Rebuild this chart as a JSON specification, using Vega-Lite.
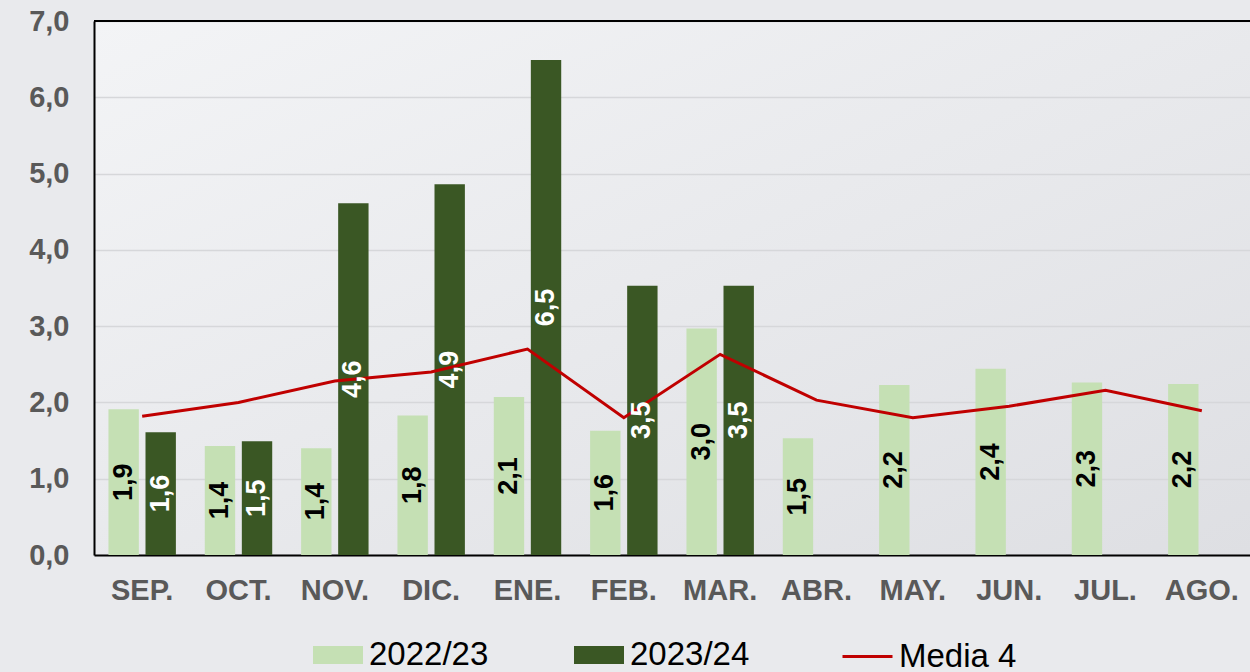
{
  "$schema": "https://vega.github.io/schema/vega-lite/v6.json",
  "width": 1156,
  "height": 534,
  "autosize": {"type": "none"},
  "padding": {"left": 94, "top": 21, "right": 0, "bottom": 117},
  "background": "#e9eaed",
  "config": {
    "font": "Liberation Sans",
    "locale": {"number": {"decimal": ",", "thousands": ".", "grouping": [3], "currency": ["", " €"]}},
    "view": {
      "stroke": null,
      "fill": {"gradient": "linear", "x1": 0, "y1": 0, "x2": 1, "y2": 1,
        "stops": [{"offset": 0, "color": "#f3f4f6"}, {"offset": 1, "color": "#dedfe3"}]}
    }
  },
  "datasets": {
    "bars": [
      {"mes": "SEP.", "serie": "2022/23", "valor": 1.91},
      {"mes": "SEP.", "serie": "2023/24", "valor": 1.61},
      {"mes": "OCT.", "serie": "2022/23", "valor": 1.43},
      {"mes": "OCT.", "serie": "2023/24", "valor": 1.49},
      {"mes": "NOV.", "serie": "2022/23", "valor": 1.40},
      {"mes": "NOV.", "serie": "2023/24", "valor": 4.61},
      {"mes": "DIC.", "serie": "2022/23", "valor": 1.83},
      {"mes": "DIC.", "serie": "2023/24", "valor": 4.86},
      {"mes": "ENE.", "serie": "2022/23", "valor": 2.07},
      {"mes": "ENE.", "serie": "2023/24", "valor": 6.49},
      {"mes": "FEB.", "serie": "2022/23", "valor": 1.63},
      {"mes": "FEB.", "serie": "2023/24", "valor": 3.53},
      {"mes": "MAR.", "serie": "2022/23", "valor": 2.97},
      {"mes": "MAR.", "serie": "2023/24", "valor": 3.53},
      {"mes": "ABR.", "serie": "2022/23", "valor": 1.53},
      {"mes": "MAY.", "serie": "2022/23", "valor": 2.23},
      {"mes": "JUN.", "serie": "2022/23", "valor": 2.44},
      {"mes": "JUL.", "serie": "2022/23", "valor": 2.26},
      {"mes": "AGO.", "serie": "2022/23", "valor": 2.24}
    ],
    "media": [
      {"mes": "SEP.", "media": 1.82},
      {"mes": "OCT.", "media": 2.0},
      {"mes": "NOV.", "media": 2.28},
      {"mes": "DIC.", "media": 2.40},
      {"mes": "ENE.", "media": 2.70},
      {"mes": "FEB.", "media": 1.80},
      {"mes": "MAR.", "media": 2.63},
      {"mes": "ABR.", "media": 2.03},
      {"mes": "MAY.", "media": 1.80},
      {"mes": "JUN.", "media": 1.95},
      {"mes": "JUL.", "media": 2.16},
      {"mes": "AGO.", "media": 1.89}
    ]
  },
  "encoding": {
    "x": {
      "field": "mes", "type": "nominal",
      "sort": ["SEP.", "OCT.", "NOV.", "DIC.", "ENE.", "FEB.", "MAR.", "ABR.", "MAY.", "JUN.", "JUL.", "AGO."],
      "scale": {"paddingInner": 0.3, "paddingOuter": 0.15},
      "axis": {
        "title": null, "labelAngle": 0, "ticks": false,
        "labelFont": "Liberation Sans", "labelFontSize": 29, "labelFontWeight": "bold",
        "labelColor": "#595959", "labelPadding": 21,
        "domainColor": "#000000", "domainWidth": 2
      }
    }
  },
  "layer": [
    {
      "data": {"name": "bars"},
      "mark": {"type": "bar"},
      "encoding": {
        "xOffset": {"field": "serie", "type": "nominal", "scale": {"paddingInner": 0.18}},
        "y": {
          "field": "valor", "type": "quantitative",
          "scale": {"domain": [0, 7], "nice": false},
          "axis": {
            "title": null, "values": [0, 1, 2, 3, 4, 5, 6, 7], "format": ".1f",
            "ticks": false, "labelPadding": 25,
            "labelFont": "Liberation Sans", "labelFontSize": 29, "labelFontWeight": "bold",
            "labelColor": "#595959",
            "domainColor": "#000000", "domainWidth": 2,
            "grid": true, "gridColor": "#d6d7da", "gridWidth": 1.5
          }
        },
        "color": {
          "field": "serie", "type": "nominal",
          "scale": {"domain": ["2022/23", "2023/24"], "range": ["#c5e0b4", "#3a5724"]},
          "legend": {
            "title": null, "orient": "none", "direction": "horizontal",
            "legendX": 219, "legendY": 609,
            "symbolType": "M-1,-0.36H1V0.36H-1Z", "symbolSize": 2500,
            "symbolStrokeWidth": 0,
            "labelFont": "Liberation Sans", "labelFontSize": 33, "labelColor": "#000000",
            "labelOffset": 6, "columnPadding": 85, "padding": 0
          }
        }
      }
    },
    {
      "data": {"name": "media"},
      "mark": {"type": "line", "strokeWidth": 3},
      "encoding": {
        "y": {"field": "media", "type": "quantitative", "scale": {"domain": [0, 7], "nice": false}, "axis": null},
        "stroke": {
          "datum": "Media 4",
          "scale": {"domain": ["Media 4"], "range": ["#c00000"]},
          "legend": {
            "title": null, "orient": "none", "direction": "horizontal",
            "legendX": 747, "legendY": 609,
            "symbolType": "stroke", "symbolSize": 2500, "symbolStrokeWidth": 3,
            "labelFont": "Liberation Sans", "labelFontSize": 33, "labelColor": "#000000",
            "labelOffset": 5, "padding": 0
          }
        }
      }
    },
    {
      "data": {"name": "media"},
      "mark": {"type": "rule", "color": "#000000", "strokeWidth": 2},
      "encoding": {
        "x": null,
        "y": {"datum": 7, "type": "quantitative", "scale": {"domain": [0, 7], "nice": false}, "axis": null}
      }
    },
    {
      "data": {"name": "bars"},
      "mark": {"type": "text", "angle": 270, "align": "center", "baseline": "middle",
        "font": "Liberation Sans", "fontSize": 27, "fontWeight": "bold"},
      "encoding": {
        "xOffset": {"field": "serie", "type": "nominal", "scale": {"paddingInner": 0.18}},
        "y": {"field": "valor", "type": "quantitative", "scale": {"domain": [0, 14], "nice": false}, "axis": null},
        "text": {"field": "valor", "type": "quantitative", "format": ".1f"},
        "color": {"condition": {"test": "datum.serie === '2023/24'", "value": "#ffffff"}, "value": "#000000"}
      }
    }
  ],
  "resolve": {"scale": {"y": "independent"}}
}
